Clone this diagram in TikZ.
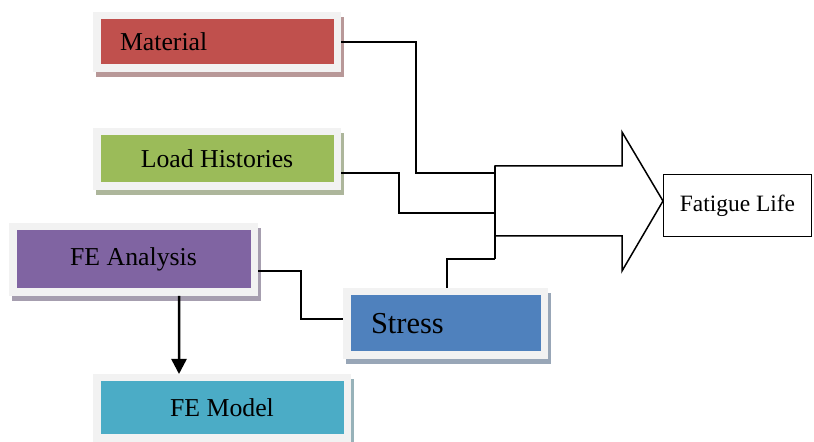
\documentclass[tikz,border=0pt]{standalone}
\usepackage{fontspec}
\setmainfont{Liberation Serif}
\usetikzlibrary{arrows.meta, calc}

\definecolor{framegrey}{HTML}{F2F2F2}
\definecolor{matred}{HTML}{C0504D}
\definecolor{loadgreen}{HTML}{9BBB59}
\definecolor{feapurple}{HTML}{8064A2}
\definecolor{stressblue}{HTML}{4F81BD}
\definecolor{femaqua}{HTML}{4BACC6}

\tikzset{
  block/.style={draw=framegrey, line width=0.225cm, fill=#1, inner sep=0pt,
    preaction={draw=#1!40!gray!70!white, fill=#1!40!gray!70!white,
      transform canvas={xshift=0.075cm, yshift=-0.15cm}},
    font=\fontsize{22}{26}\selectfont},
  wire/.style={line width=0.045cm}
}

\begin{document}
\begin{tikzpicture}
\useasboundingbox (0, 0) rectangle (24.42, 13.26);

\node[block=matred, minimum width=7.215cm, minimum height=1.575cm, text width=5.82cm, align=left] (mat) at (6.51, 12.0) {Material};
\node[block=loadgreen, minimum width=7.215cm, minimum height=1.635cm] (load) at (6.51, 8.49) {Load Histories};
\node[block=feapurple, minimum width=7.245cm, minimum height=1.965cm] (fea) at (4.005, 5.475) {FE Analysis};
\node[block=stressblue, minimum width=5.925cm, minimum height=1.905cm, text width=4.47cm, align=left, font=\fontsize{26}{31}\selectfont] (stress) at (13.365, 3.555) {Stress};
\node[block=femaqua, minimum width=7.515cm, minimum height=1.815cm] (fem) at (6.66, 1.02) {FE Model};

\node[draw, line width=0.036cm, minimum width=4.44cm, minimum height=1.86cm, inner sep=0pt, font=\fontsize{20}{24}\selectfont] (life) at (22.125, 7.095) {Fatigue Life};

%% big arrow
\coordinate (tailtop) at (14.85, 8.28);
\coordinate (tailbot) at (14.85, 6.18);
\coordinate (tip) at (19.89, 7.23);
\draw[wire] (tailtop) -- (18.66, 8.28) -- (18.66, 9.30) -- (tip) -- (18.66, 5.13) -- (18.66, 6.18) -- (tailbot) -- cycle;
\coordinate (busbot) at (14.85, 5.49);
\draw[wire] (tailtop) -- (busbot);

%% Material
\coordinate (matin) at (14.85, 8.07);
\draw[wire] (mat.east) -- ([xshift=2.25cm]mat.east) |- (matin);

%% Load Histories
\coordinate (loadin) at (14.85, 6.87);
\draw[wire] ([yshift=-0.42cm]load.east) -- ([xshift=1.74cm, yshift=-0.42cm]load.east) |- (loadin);

%% FE Analysis -> Stress
\draw[wire] ([yshift=-0.345cm]fea.east) -- ([xshift=1.29cm, yshift=-0.345cm]fea.east) |- ([yshift=0.135cm]stress.west);

%% Stress
\draw[wire] ([xshift=0.045cm]stress.north) |- (busbot);

%% FE Model
\draw[line width=0.075cm, -{Triangle[length=0.45cm, width=0.45cm]}] ([xshift=1.365cm]fea.south) -- ([xshift=-1.29cm]fem.north);

\end{tikzpicture}
\end{document}
